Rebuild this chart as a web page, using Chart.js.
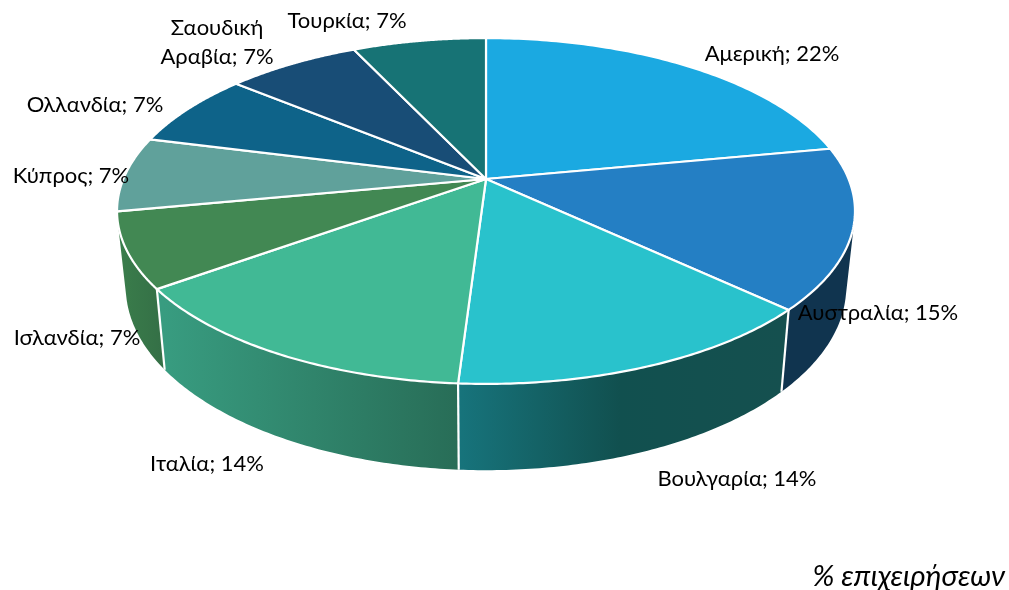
<!DOCTYPE html>
<html><head><meta charset="utf-8">
<style>html,body{margin:0;padding:0;background:#fff}canvas{display:block}</style>
<script src="https://cdn.jsdelivr.net/npm/chart.js@4"></script>
</head><body><canvas id="c" width="1009" height="590"></canvas>
<script>
const categories = ["Αμερική","Αυστραλία","Βουλγαρία","Ιταλία","Ισλανδία","Κύπρος","Ολλανδία","Σαουδική\nΑραβία","Τουρκία"];
const shares = [22,15,14,14,7,7,7,7,7];
const topColors = ["#1BA9E1","#247FC4","#29C2CC","#41B995","#428853","#60A19B","#0E6389","#184D76","#177375"];
const unitLabel = "% επιχειρήσεων";
const labelCentres = [[772,54],[878,313],[737,479],[207,464],[77,338],[71,176],[95,105],[217,42],[347,21]];
const wallStops = [
  null,
  [[782,"#10344F"],[855,"#10344F"]],
  [[458,"#17747C"],[620,"#11504F"],[782,"#15504F"]],
  [[164,"#389C80"],[458,"#286D57"]],
  [[119,"#3A7D4B"],[164,"#346F46"]],
  null,null,null,null
];
const LABEL_FONT = '22px Lato, "Noto Sans", sans-serif';
const UNIT_FONT = 'italic 29.5px Lato, "Noto Sans", sans-serif';
const top3d = {cx:486,hy:179,r:362.6,b:167,p:0.185};
const low3d = {cx:486,hy:253,r:354,b:177,p:0.185};
function proj(P,a){const u=Math.cos(a),v=Math.sin(a),w=1-P.p*v;return [P.cx+P.r*u/w,P.hy+P.b*v/w];}
function sampleArc(P,a0,a1,n){const o=[];for(let i=0;i<=n;i++)o.push(proj(P,a0+(a1-a0)*i/n));return o;}
function addQuad(ctx,q){
  let area=0;
  for(let i=0;i<4;i++){const a=q[i],b=q[(i+1)%4];area+=a[0]*b[1]-b[0]*a[1];}
  const pts=area<0?q.slice().reverse():q;
  ctx.moveTo(...pts[0]);ctx.lineTo(...pts[1]);ctx.lineTo(...pts[2]);ctx.lineTo(...pts[3]);ctx.closePath();
}
const pie3d={
  id:'pie3d',
  beforeDatasetDraw(chart,args){
    const ctx=chart.ctx,arcs=args.meta.data;
    ctx.save();ctx.lineJoin='round';
    arcs.forEach((arc,i)=>{
      const st=wallStops[i];if(!st)return;
      const n=80,up=sampleArc(top3d,arc.startAngle,arc.endAngle,n),lo=sampleArc(low3d,arc.startAngle,arc.endAngle,n);
      const x0=st[0][0],x1=st[st.length-1][0];
      const g=ctx.createLinearGradient(x0,0,x1,0);
      st.forEach(s=>g.addColorStop((s[0]-x0)/(x1-x0),s[1]));
      ctx.fillStyle=g;
      ctx.beginPath();
      for(let k=0;k<n;k++)addQuad(ctx,[up[k],up[k+1],lo[k+1],lo[k]]);
      ctx.fill('nonzero');
    });
    ctx.strokeStyle='#fff';ctx.lineWidth=2.2;
    arcs.forEach((arc,i)=>{
      if(i<2||i>4)return;
      ctx.beginPath();ctx.moveTo(...proj(top3d,arc.startAngle));ctx.lineTo(...proj(low3d,arc.startAngle));ctx.stroke();
    });
    arcs.forEach((arc,i)=>{
      const pts=sampleArc(top3d,arc.startAngle,arc.endAngle,90);
      ctx.beginPath();ctx.moveTo(top3d.cx,top3d.hy);pts.forEach(q=>ctx.lineTo(q[0],q[1]));ctx.closePath();
      ctx.fillStyle=arc.options.backgroundColor;ctx.fill();
      ctx.strokeStyle='#fff';ctx.lineWidth=2.2;ctx.stroke();
    });
    ctx.restore();
    return false;
  },
  afterDatasetsDraw(chart){
    const ctx=chart.ctx;
    ctx.save();ctx.fillStyle='#000';ctx.textBaseline='middle';ctx.textAlign='center';ctx.font=LABEL_FONT;
    categories.forEach((c,i)=>{
      const lines=(c+"; "+shares[i]+"%").split("\n"),[x,y]=labelCentres[i],lh=29;
      lines.forEach((t,k)=>ctx.fillText(t,x,y+(k-(lines.length-1)/2)*lh));
    });
    ctx.font=UNIT_FONT;ctx.textAlign='right';ctx.fillText(unitLabel,1005,576);
    ctx.restore();
  }
};
new Chart(document.getElementById('c'),{
  type:'pie',
  data:{labels:categories,datasets:[{data:shares,backgroundColor:topColors,borderColor:'#fff',borderWidth:2}]},
  options:{responsive:false,animation:false,plugins:{legend:{display:false},tooltip:{enabled:false}}},
  plugins:[pie3d]
});
</script></body></html>
